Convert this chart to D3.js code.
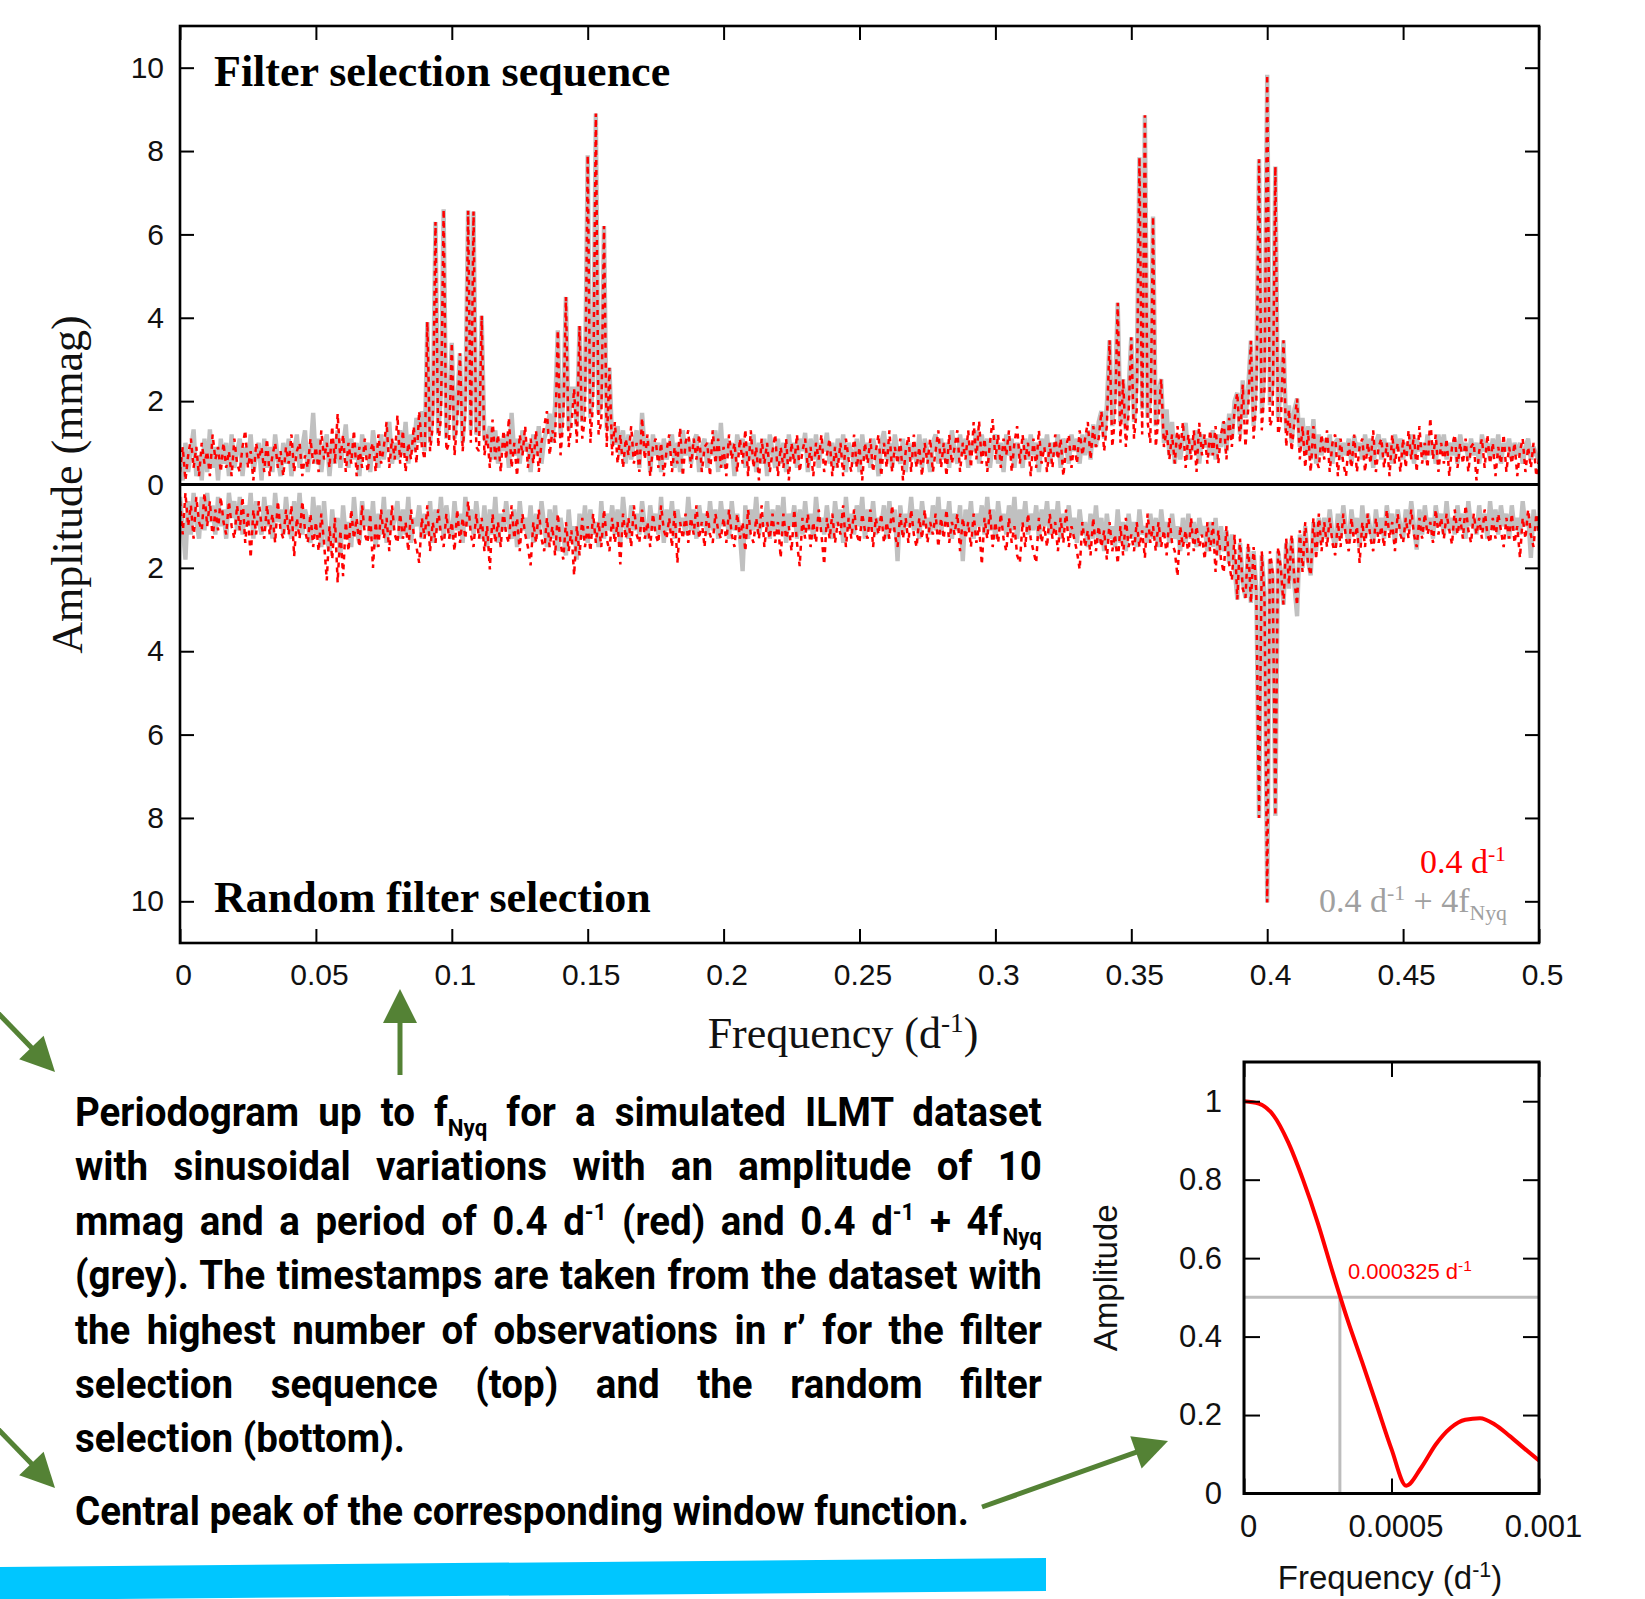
<!DOCTYPE html>
<html>
<head>
<meta charset="utf-8">
<script src="https://cdn.jsdelivr.net/npm/d3@7"></script>
<style>
  html, body { margin: 0; padding: 0; background: #fff; }
  svg { display: block; }
</style>
</head>
<body>
<svg id="fig" width="1645" height="1599"></svg>
<script>
// ---------------------------------------------------------------
// Periodogram amplitudes (mmag), sampled every 0.001 d^-1 from 0 to 0.5
// top = filter selection sequence, bot = random filter selection
// red = 0.4 d^-1 signal, grey = 0.4 d^-1 + 4 fNyq signal
// ---------------------------------------------------------------
const freqStep = 0.001;

const topRed = [
  0.3,0.9,0.1,0.7,1.1,0.4,0.9,0.2,1.0,0.5,
  0.8,0.2,1.2,0.6,0.9,0.3,1.0,0.4,0.8,0.2,
  1.1,0.5,0.3,0.9,1.3,0.4,0.8,0.1,1.0,0.6,
  0.9,0.3,1.1,0.2,0.7,1.0,0.4,0.8,0.2,0.9,
  0.5,1.2,0.3,0.8,1.0,0.2,0.7,0.4,1.1,0.5,
  0.9,0.3,1.3,0.6,1.0,0.4,1.4,0.5,1.7,0.6,
  1.2,0.3,1.0,0.5,1.3,0.2,0.9,0.4,1.1,0.3,
  0.8,1.0,0.3,1.2,0.5,0.9,1.5,0.4,1.1,0.6,
  1.66,0.5,1.3,0.3,1.0,0.6,1.4,0.5,1.76,0.9,
  0.6,3.9,0.8,1.4,6.3,0.9,1.6,6.6,0.8,1.0,
  3.4,0.7,1.5,3.15,0.8,1.7,6.57,1.0,6.55,0.9,
  0.8,4.05,0.7,1.2,0.4,1.56,0.6,1.2,0.3,1.3,
  0.6,1.6,0.4,1.0,0.2,1.2,0.7,1.4,0.4,1.1,
  0.5,1.3,0.3,1.0,1.4,1.76,0.7,1.3,1.0,3.7,
  0.7,1.5,4.5,0.9,1.4,2.3,1.0,3.8,1.1,1.6,
  7.9,1.0,2.0,8.9,1.2,1.5,6.2,0.9,2.8,0.7,
  1.5,0.5,1.2,0.4,1.1,0.7,1.4,0.5,1.0,0.3,
  1.6,0.6,1.2,0.2,0.9,1.1,0.4,1.0,0.2,0.8,
  1.2,0.3,0.9,0.5,1.36,0.2,1.0,1.3,0.4,1.1,
  0.6,1.2,0.3,0.9,1.0,0.2,1.3,0.5,1.1,0.4,
  0.9,0.2,1.2,0.6,1.0,0.3,1.1,0.5,1.32,0.2,
  1.3,0.4,0.9,0.1,1.1,0.5,1.0,0.3,0.8,1.2,
  0.2,0.9,0.4,1.1,0.1,1.0,0.5,1.2,0.3,0.8,
  1.1,0.4,0.9,0.2,1.0,0.6,1.2,0.3,0.7,1.1,
  0.2,0.9,0.4,1.0,0.2,1.1,0.6,0.3,1.2,0.4,
  0.9,0.1,1.0,0.5,1.1,0.3,0.8,1.2,0.2,1.0,
  0.4,1.3,0.3,0.9,0.5,1.1,0.1,0.8,1.16,0.3,
  1.2,0.4,0.9,0.2,1.0,0.5,1.1,0.3,0.8,1.3,
  0.4,1.0,0.2,1.2,0.5,0.9,1.3,0.3,1.0,0.6,
  1.3,0.4,1.5,0.6,1.52,0.5,1.1,0.3,1.0,1.57,
  0.6,1.2,0.4,1.1,0.7,1.3,0.3,1.0,1.4,0.5,
  1.2,0.6,1.0,0.2,1.1,0.4,1.3,0.5,0.9,0.3,
  1.0,0.4,1.2,0.6,1.1,0.2,0.9,1.2,0.4,1.0,
  0.5,1.3,0.7,1.1,1.5,0.6,1.4,0.9,1.1,1.76,
  0.8,1.4,3.46,0.9,1.6,4.36,1.0,2.53,0.9,1.7,
  3.53,1.1,1.8,7.85,1.2,8.86,1.5,1.0,6.43,0.9,
  1.6,2.53,0.9,1.3,0.6,1.2,0.5,1.4,0.8,1.5,
  0.4,1.2,0.6,1.3,0.3,1.48,0.7,1.2,0.5,1.3,
  0.7,1.4,0.5,1.2,1.52,0.6,1.6,0.9,1.8,2.2,
  1.0,2.4,0.9,1.8,3.45,1.1,2.0,7.8,1.3,2.3,
  9.83,1.4,1.6,7.63,1.2,1.5,3.46,0.9,1.8,0.8,
  1.5,2.06,0.6,1.4,0.4,1.3,0.3,1.4,0.6,0.4,
  1.2,0.6,1.3,0.3,1.0,1.2,0.2,1.1,0.5,0.2,
  1.0,0.4,1.2,0.3,0.9,1.1,0.3,1.0,0.5,1.3,
  0.3,0.9,1.1,0.4,1.0,0.2,1.2,0.5,1.0,0.3,
  1.1,0.4,1.3,0.6,1.2,0.3,1.4,0.5,1.0,0.4,
  1.6,0.6,1.2,0.3,1.0,0.5,1.1,0.2,0.9,1.2,
  0.4,1.0,0.5,1.1,0.3,0.9,1.0,0.1,0.8,1.1,
  0.4,1.2,0.5,1.0,0.2,0.9,0.5,1.2,0.3,0.9,
  0.5,1.0,0.2,0.8,1.1,0.3,0.9,0.4,1.0,0.2,
  0.6
];

const topGrey = [
  0.5,0.1,1.0,0.3,0.8,1.32,0.2,0.7,0.1,1.1,
  0.3,1.32,0.4,0.9,0.1,1.1,0.5,1.0,0.2,1.2,
  0.4,0.8,1.1,0.2,0.9,0.5,1.2,0.3,0.7,1.0,
  0.1,1.1,0.4,0.9,0.3,1.2,0.6,0.2,1.0,0.5,
  1.1,0.2,0.8,1.2,0.4,0.9,1.3,0.3,0.8,1.72,
  0.5,1.1,0.3,0.9,1.2,0.2,1.0,0.5,1.3,0.4,
  0.9,1.44,0.4,1.1,0.6,1.0,0.2,1.2,0.7,1.0,
  0.3,1.3,0.8,0.4,1.2,0.6,1.1,1.5,0.5,1.0,
  0.6,1.3,0.7,1.5,0.5,1.2,0.8,1.6,1.0,1.76,
  0.8,3.9,1.0,1.8,6.3,1.2,2.2,6.6,1.1,1.9,
  3.4,1.1,2.0,3.15,1.0,2.1,6.57,1.3,6.55,1.2,
  1.3,4.05,1.1,1.0,1.4,0.6,1.3,0.5,1.1,0.8,
  1.2,0.4,1.72,0.7,1.1,0.5,1.3,0.8,1.0,0.3,
  1.2,0.7,1.4,0.5,1.1,1.3,1.7,1.0,1.9,3.7,
  1.2,2.0,4.5,1.3,2.3,2.3,1.4,3.8,1.5,2.4,
  7.9,1.6,2.5,8.9,1.7,2.0,6.2,1.3,2.8,1.0,
  1.0,1.4,0.7,1.3,0.5,1.2,0.6,1.0,1.3,0.4,
  1.72,0.8,1.1,0.3,1.2,0.7,1.0,0.3,1.1,0.6,
  0.9,1.2,0.4,1.0,0.3,1.3,0.7,1.1,0.5,1.0,
  1.2,0.3,0.9,1.1,0.4,1.0,0.7,1.3,0.3,1.48,
  0.4,1.1,0.7,1.0,0.2,1.2,0.8,1.1,0.4,1.0,
  0.6,1.2,0.3,1.0,0.5,1.1,0.2,1.2,0.8,0.4,
  1.1,0.5,1.0,0.3,1.2,0.6,1.0,0.4,1.1,0.8,
  1.24,0.3,1.1,0.6,1.2,0.4,1.0,0.8,1.24,0.5,
  1.0,0.4,1.1,0.6,1.2,0.3,1.0,0.8,0.5,1.1,
  0.3,1.2,0.6,1.0,0.4,1.1,0.8,0.2,1.0,1.28,
  0.6,1.0,0.4,1.2,0.8,0.5,1.1,0.3,1.0,0.6,
  1.0,0.5,1.2,0.4,1.1,0.8,0.3,1.0,1.2,0.5,
  1.1,0.6,1.0,0.4,1.3,0.8,0.5,1.2,0.7,1.1,
  0.4,1.0,0.8,1.3,0.5,1.2,0.7,1.1,0.4,1.0,
  1.2,0.5,1.0,0.3,1.2,0.7,1.1,0.4,1.0,0.8,
  0.4,1.1,0.6,1.2,0.7,1.0,0.3,1.1,0.8,1.2,
  0.5,1.0,0.7,1.2,0.4,1.1,0.9,0.5,1.2,0.8,
  1.1,0.5,1.2,0.7,1.3,0.6,1.44,0.9,1.5,1.76,
  1.1,1.9,3.46,1.4,2.2,4.36,1.5,2.53,1.3,2.3,
  3.53,1.5,2.5,7.85,1.8,8.86,1.6,2.1,6.43,1.4,
  2.2,2.53,1.0,1.8,0.7,1.5,0.5,1.2,0.6,1.1,
  1.48,0.6,1.1,0.8,1.3,0.5,1.2,0.9,1.1,0.7,
  1.3,0.6,1.2,0.9,1.5,0.8,1.7,1.1,2.0,2.2,
  1.2,2.5,1.6,2.3,3.45,1.4,2.7,7.8,1.7,2.8,
  9.83,1.9,2.4,7.63,1.6,2.3,3.46,1.3,1.9,1.0,
  1.8,2.06,0.9,1.6,0.7,1.4,0.6,1.57,0.5,1.2,
  0.7,1.1,0.8,1.2,0.5,1.0,1.1,0.6,1.0,0.7,
  1.1,0.5,1.16,0.8,1.0,0.6,1.2,0.7,1.1,0.4,
  1.0,1.2,0.6,1.1,0.7,1.0,0.5,1.2,0.8,1.1,
  0.6,1.0,0.7,1.2,0.5,1.1,0.8,1.0,0.6,1.2,
  0.7,1.0,0.5,1.2,0.8,1.2,0.6,1.0,0.7,1.1,
  0.5,1.2,0.8,1.0,0.6,1.1,0.7,1.0,0.5,1.2,
  0.8,1.0,0.6,1.1,0.7,1.2,0.5,1.0,0.8,1.1,
  0.6,1.0,0.7,1.0,0.5,0.9,1.1,0.6,0.9,0.7,
  0.6
];

const botRed = [
  0.4,1.2,0.2,1.0,0.5,1.3,0.3,0.9,1.1,0.2,
  1.0,0.4,1.3,0.6,1.1,0.3,0.9,1.2,0.4,1.0,
  1.3,0.5,1.1,0.3,1.4,0.7,1.76,0.6,1.2,0.4,
  1.0,1.3,0.5,1.2,0.7,1.4,0.4,1.1,1.3,0.6,
  1.2,0.5,1.72,0.8,1.3,0.4,1.1,1.4,0.7,1.5,
  0.9,1.6,0.7,1.4,2.3,1.0,1.8,0.8,2.35,1.1,
  2.2,0.9,1.6,0.6,1.3,0.8,1.5,0.5,1.2,1.4,
  0.7,2.0,0.9,1.5,0.6,1.3,0.8,1.6,0.5,1.2,
  1.4,0.7,1.3,0.9,1.6,0.6,1.2,1.5,1.88,0.8,
  1.3,0.5,1.6,0.9,1.4,0.6,1.2,1.5,0.7,1.3,
  0.9,1.6,0.6,1.4,0.8,1.3,0.4,1.2,1.5,0.7,
  1.3,0.8,1.6,1.0,2.04,0.7,1.4,0.9,1.5,0.6,
  1.2,1.4,0.5,1.3,0.8,1.6,0.7,1.2,1.5,1.94,
  0.9,1.4,0.6,1.3,1.6,0.8,1.5,1.0,1.7,0.7,
  1.4,1.8,0.9,1.6,1.1,2.18,1.0,1.7,0.8,1.5,
  1.0,1.6,0.7,1.4,0.9,1.5,0.6,1.3,1.6,0.8,
  1.4,0.9,1.92,0.7,1.3,0.8,1.5,0.5,1.2,1.4,
  0.6,1.3,0.9,1.5,0.7,1.2,1.4,0.5,1.1,1.3,
  0.8,1.5,0.6,1.88,0.9,1.3,0.7,1.4,0.8,1.2,
  0.5,1.3,0.9,1.5,0.6,1.2,1.4,0.7,1.1,1.3,
  0.8,1.4,0.6,1.2,1.5,0.7,1.3,0.9,1.6,0.6,
  1.2,1.4,0.8,1.3,0.5,1.5,0.9,1.3,0.7,1.4,
  0.9,1.76,0.7,1.3,1.0,1.6,0.6,1.4,1.96,0.8,
  1.3,0.7,1.5,0.9,1.4,0.6,1.2,1.92,0.8,1.3,
  0.7,1.4,0.9,1.2,0.5,1.5,0.8,1.3,0.6,1.2,
  1.4,0.7,1.1,1.3,0.6,1.5,0.8,1.2,0.7,1.4,
  0.9,1.3,0.5,1.2,1.5,0.7,1.3,0.8,1.4,0.6,
  1.2,1.5,0.8,1.3,0.6,1.4,0.9,1.2,0.7,1.5,
  0.8,1.3,0.6,1.4,0.9,1.2,0.7,1.6,0.8,1.3,
  0.9,1.5,0.7,1.4,1.0,1.92,0.8,1.3,0.6,1.5,
  0.9,1.4,0.7,1.3,1.6,0.8,1.4,1.0,1.7,1.88,
  0.9,1.5,0.7,1.3,1.6,1.88,0.8,1.4,1.0,1.5,
  0.7,1.3,0.9,1.6,0.8,1.4,0.6,1.5,1.0,1.3,
  1.6,2.04,0.9,1.5,1.1,1.7,0.8,1.6,1.0,1.5,
  1.1,1.8,0.9,1.6,1.2,1.9,1.0,1.7,0.8,1.5,
  1.2,1.6,0.9,1.5,1.1,1.76,0.7,1.4,1.0,1.6,
  0.9,1.5,1.1,1.7,0.8,1.4,1.6,2.2,1.0,1.5,
  1.1,1.7,0.8,1.6,1.0,1.5,1.2,1.8,0.9,1.6,
  0.9,2.1,1.1,1.8,2.12,1.0,1.9,2.3,1.2,2.76,
  1.3,2.5,2.72,1.4,2.84,1.5,2.6,8.0,1.6,2.7,
  10.03,1.6,2.1,7.95,1.5,2.0,2.88,1.3,2.4,1.2,
  2.3,2.9,1.1,2.1,0.9,1.9,2.18,0.8,1.8,0.7,
  1.6,0.9,1.5,0.8,1.4,1.7,0.9,1.5,0.7,1.3,
  1.6,0.8,1.4,1.0,1.88,0.9,1.5,0.7,1.3,1.6,
  0.8,1.4,1.0,1.5,0.6,1.3,0.9,1.6,0.7,1.2,
  1.4,0.8,1.3,0.6,1.2,1.5,0.8,1.3,0.7,1.2,
  0.9,1.4,0.6,1.2,0.8,1.3,0.7,1.1,1.44,0.6,
  1.2,0.8,1.3,0.5,1.1,1.4,0.7,1.2,0.8,1.3,
  0.6,1.2,1.4,0.8,1.3,0.7,1.1,1.5,0.8,1.3,
  0.7,1.4,1.0,1.76,0.8,1.3,0.6,1.2,1.5,0.7,
  1.2
];

const botGrey = [
  0.3,1.0,1.8,0.4,1.2,0.2,0.9,1.3,0.3,1.1,
  0.2,0.9,0.5,1.2,0.3,1.0,0.6,1.3,0.2,0.8,
  0.4,1.1,0.3,1.2,0.5,1.0,0.2,1.3,0.4,0.9,
  1.2,0.3,1.0,0.5,1.3,0.2,0.9,0.6,1.2,0.3,
  1.0,1.3,0.4,1.1,0.2,1.2,0.6,0.9,1.4,0.3,
  1.2,0.5,1.5,0.4,1.3,1.6,0.6,1.4,0.8,1.7,
  0.5,1.3,0.9,1.5,0.3,1.1,1.4,0.4,1.0,0.6,
  1.3,0.4,1.5,0.7,1.2,0.3,1.4,0.6,1.1,0.8,
  0.4,1.3,0.6,1.2,0.3,1.4,0.8,1.0,0.5,1.3,
  0.7,1.2,0.4,1.4,0.6,1.1,0.3,1.3,0.5,1.0,
  1.3,0.4,1.1,0.7,1.4,0.3,1.0,0.6,1.2,0.4,
  1.0,1.3,0.5,1.5,0.6,1.2,0.3,1.4,0.7,1.1,
  0.4,1.0,1.3,0.6,1.5,0.4,1.1,0.8,1.3,0.5,
  1.4,0.7,1.2,0.4,1.0,1.5,0.6,1.3,0.5,1.6,
  0.8,1.2,1.7,0.6,1.4,1.0,1.8,0.7,1.3,0.5,
  1.4,0.6,1.2,0.9,1.5,0.4,1.3,0.7,1.1,0.5,
  1.2,0.6,1.4,0.3,1.0,1.3,0.5,1.1,0.7,1.2,
  0.4,1.0,1.3,0.5,1.1,0.7,1.2,0.3,1.4,0.6,
  1.1,0.4,1.3,0.6,1.0,0.8,1.2,0.3,1.1,0.6,
  1.3,0.5,1.0,0.7,1.2,0.4,1.1,0.6,1.3,0.4,
  1.0,0.6,1.3,0.4,1.1,0.7,1.2,2.08,0.5,1.3,
  0.6,1.1,0.3,1.2,0.8,1.0,0.4,1.3,0.6,1.1,
  0.5,1.2,0.3,1.4,0.7,1.0,0.5,1.3,0.6,1.2,
  0.4,1.1,0.7,1.3,0.3,1.0,0.8,1.2,0.5,1.1,
  1.3,0.4,1.0,0.6,1.4,0.3,1.1,0.7,1.2,0.5,
  1.0,0.3,1.3,0.6,1.1,0.4,1.2,0.8,1.0,0.5,
  1.3,0.4,1.1,0.6,1.84,0.5,1.2,0.7,1.0,0.3,
  1.1,0.6,1.3,0.4,1.0,0.8,1.2,0.5,1.1,0.3,
  1.2,0.6,1.0,0.4,1.3,0.7,1.1,0.5,1.84,0.6,
  1.1,0.4,1.3,0.7,1.0,0.5,1.2,0.3,1.1,0.6,
  1.3,0.4,1.0,0.7,1.2,0.5,1.1,0.3,1.3,0.6,
  1.0,0.4,1.2,0.7,1.1,0.5,1.3,0.6,1.0,0.4,
  1.2,0.6,1.1,0.4,1.3,0.7,1.0,0.5,1.2,0.8,
  1.4,0.6,1.2,0.9,1.5,0.7,1.3,0.5,1.4,0.8,
  1.6,0.7,1.3,1.0,1.5,0.6,1.4,0.9,1.6,0.7,
  1.3,0.9,1.5,0.6,1.2,1.0,1.4,0.7,1.3,0.8,
  1.5,0.6,1.2,0.9,1.4,0.7,1.3,1.0,1.6,0.8,
  1.4,0.7,1.3,0.9,1.5,0.8,1.2,1.0,1.6,0.9,
  1.5,0.8,1.7,1.0,1.6,1.1,1.9,1.2,2.0,2.76,
  1.4,2.3,2.72,1.5,2.84,1.6,2.5,8.0,1.7,2.6,
  10.03,1.8,2.2,7.95,1.6,2.1,2.88,1.4,2.5,1.3,
  2.4,3.16,1.2,2.0,1.0,1.8,2.18,0.9,1.6,0.8,
  1.4,0.8,1.3,0.6,1.2,1.5,0.7,1.3,0.5,1.1,
  1.4,0.6,1.2,0.8,1.5,0.5,1.3,0.7,1.1,1.4,
  0.6,1.2,0.8,1.3,0.5,1.1,0.7,1.4,0.6,1.0,
  1.3,0.6,1.1,0.4,1.0,1.56,0.6,1.2,0.5,1.1,
  0.8,1.3,0.5,1.0,0.7,1.2,0.4,1.1,0.8,1.2,
  0.5,1.1,0.7,1.3,0.4,1.0,0.8,1.2,0.5,1.1,
  0.7,1.3,0.4,1.1,0.6,1.2,0.5,1.0,0.7,1.3,
  0.5,1.1,0.8,1.2,0.4,1.0,0.7,1.76,0.6,1.1,
  0.8
];

// Axis ticks of the periodogram
const xTicks = [0, 0.05, 0.1, 0.15, 0.2, 0.25, 0.3, 0.35, 0.4, 0.45, 0.5];
const xTickLabels = ["0", "0.05", "0.1", "0.15", "0.2", "0.25", "0.3", "0.35", "0.4", "0.45", "0.5"];
const yTicks = [-10, -8, -6, -4, -2, 0, 2, 4, 6, 8, 10];
const yTickLabels = ["10", "8", "6", "4", "2", "0", "2", "4", "6", "8", "10"];

// Central peak of the spectral window
const windowFreq = [0, 0.00005, 0.0001, 0.00015, 0.0002, 0.00025, 0.0003, 0.00035, 0.0004, 0.00045,
                    0.0005, 0.00055, 0.0006, 0.00065, 0.0007, 0.00075, 0.0008, 0.00085, 0.0009, 0.00095, 0.001];
const windowAmp  = [1.0, 0.994, 0.964, 0.895, 0.80, 0.69, 0.565, 0.445, 0.336, 0.225,
                    0.113, 0.02, 0.065, 0.125, 0.167, 0.188, 0.192, 0.176, 0.147, 0.115, 0.084];
const halfMaxAmp = 0.5;
const halfWidthFreq = 0.000325;
const insetXTicks = [0, 0.0005, 0.001];
const insetXTickLabels = ["0", "0.0005", "0.001"];
const insetYTicks = [0, 0.2, 0.4, 0.6, 0.8, 1];
const insetYTickLabels = ["0", "0.2", "0.4", "0.6", "0.8", "1"];

// ---------------------------------------------------------------
const SANS = "'Liberation Sans', Arial, Helvetica, sans-serif";
const SERIF = "'Liberation Serif', 'Times New Roman', Times, serif";
const RED = "#ff0000";
const GREY = "#c0c0c0";
const GREEN = "#548235";

const svg = d3.select("#fig");
const defs = svg.append("defs");

// text helper: segments [text, kind] with kind "sub" / "sup"
function addSegments(textSel, segs, fs, smallRatio) {
  let shift = 0;
  segs.forEach(([t, kind]) => {
    const target = kind === "sub" ? fs * 0.24 : kind === "sup" ? -fs * 0.36 : 0;
    const ts = textSel.append("tspan").text(t);
    if (target - shift !== 0) ts.attr("dy", target - shift);
    shift = target;
    if (kind) ts.attr("font-size", fs * (smallRatio || 0.6));
  });
  return textSel;
}

// ================= Main periodogram =================
const P = { x0: 180, x1: 1539, y0: 26, y1: 943 };
const x = d3.scaleLinear().domain([0, 0.5]).range([P.x0, P.x1]);
const y = d3.scaleLinear().domain([-11, 11]).range([P.y1, P.y0]);

defs.append("clipPath").attr("id", "clip-main")
  .append("rect").attr("x", P.x0).attr("y", P.y0)
  .attr("width", P.x1 - P.x0).attr("height", P.y1 - P.y0);

const dataG = svg.append("g").attr("clip-path", "url(#clip-main)");
const upper = d3.line().x((d, i) => x(i * freqStep)).y(d => y(d));
const lower = d3.line().x((d, i) => x(i * freqStep)).y(d => y(-d));

[[topGrey, upper], [botGrey, lower]].forEach(([arr, gen]) => {
  dataG.append("path").datum(arr).attr("d", gen)
    .attr("fill", "none").attr("stroke", GREY)
    .attr("stroke-width", 4.4).attr("stroke-linejoin", "miter").attr("stroke-miterlimit", 2);
});
[[topRed, upper], [botRed, lower]].forEach(([arr, gen]) => {
  dataG.append("path").datum(arr).attr("d", gen)
    .attr("fill", "none").attr("stroke", RED)
    .attr("stroke-width", 2.5).attr("stroke-dasharray", "5,5")
    .attr("stroke-linejoin", "miter").attr("stroke-miterlimit", 2);
});

// zero line
svg.append("line")
  .attr("x1", P.x0).attr("x2", P.x1).attr("y1", y(0)).attr("y2", y(0))
  .attr("stroke", "#000").attr("stroke-width", 3);

// axes (ticks pointing inward on all four sides)
function styleAxis(g, fs) {
  g.select(".domain").remove();
  g.selectAll(".tick line").attr("stroke", "#000").attr("stroke-width", 2);
  g.selectAll("text").attr("font-family", SANS).attr("font-size", fs).attr("fill", "#111");
}
const gxB = svg.append("g").attr("transform", `translate(0,${P.y1})`)
  .call(d3.axisBottom(x).tickValues(xTicks).tickSize(-14).tickPadding(21)
    .tickFormat((d, i) => xTickLabels[i]));
styleAxis(gxB, 30);
gxB.selectAll("text").attr("dx", 3);
const gxT = svg.append("g").attr("transform", `translate(0,${P.y0})`)
  .call(d3.axisTop(x).tickValues(xTicks).tickSize(-14).tickFormat(""));
styleAxis(gxT, 30);
const gyL = svg.append("g").attr("transform", `translate(${P.x0},0)`)
  .call(d3.axisLeft(y).tickValues(yTicks).tickSize(-14).tickPadding(16)
    .tickFormat((d, i) => yTickLabels[i]));
styleAxis(gyL, 30);
const gyR = svg.append("g").attr("transform", `translate(${P.x1},0)`)
  .call(d3.axisRight(y).tickValues(yTicks).tickSize(-14).tickFormat(""));
styleAxis(gyR, 30);

// frame
svg.append("rect").attr("x", P.x0).attr("y", P.y0)
  .attr("width", P.x1 - P.x0).attr("height", P.y1 - P.y0)
  .attr("fill", "none").attr("stroke", "#000").attr("stroke-width", 2.6);

// axis titles
svg.append("text")
  .attr("transform", `translate(82,${(P.y0 + P.y1) / 2}) rotate(-90)`)
  .attr("text-anchor", "middle").attr("font-family", SERIF).attr("font-size", 44).attr("fill", "#111")
  .text("Amplitude (mmag)");
addSegments(svg.append("text")
  .attr("x", 843).attr("y", 1048).attr("text-anchor", "middle")
  .attr("font-family", SERIF).attr("font-size", 44).attr("fill", "#111"),
  [["Frequency (d"], ["-1", "sup"], [")"]], 44, 0.62);

// panel labels
svg.append("text").attr("x", 214).attr("y", 86)
  .attr("font-family", SERIF).attr("font-weight", "bold").attr("font-size", 44).attr("fill", "#000")
  .text("Filter selection sequence");
svg.append("text").attr("x", 214).attr("y", 912)
  .attr("font-family", SERIF).attr("font-weight", "bold").attr("font-size", 44).attr("fill", "#000")
  .text("Random filter selection");

// legend
addSegments(svg.append("text").attr("x", 1506).attr("y", 873).attr("text-anchor", "end")
  .attr("font-family", SERIF).attr("font-size", 34).attr("fill", RED),
  [["0.4 d"], ["-1", "sup"]], 34, 0.64);
addSegments(svg.append("text").attr("x", 1507).attr("y", 912).attr("text-anchor", "end")
  .attr("font-family", SERIF).attr("font-size", 34).attr("fill", "#a0a0a0"),
  [["0.4 d"], ["-1", "sup"], [" + 4f"], ["Nyq", "sub"]], 34, 0.64);

// ================= Window function inset =================
const W = { x0: 1244, x1: 1539, y0: 1062, y1: 1493.5 };
const wx = d3.scaleLinear().domain([0, 0.001]).range([W.x0, W.x1]);
const wy = d3.scaleLinear().domain([0, 1.1]).range([W.y1, W.y0]);

const insetG = svg.append("g");
insetG.append("line")
  .attr("x1", wx(0)).attr("x2", wx(0.001)).attr("y1", wy(halfMaxAmp)).attr("y2", wy(halfMaxAmp))
  .attr("stroke", "#bdbdbd").attr("stroke-width", 3);
insetG.append("line")
  .attr("x1", wx(halfWidthFreq)).attr("x2", wx(halfWidthFreq)).attr("y1", wy(0)).attr("y2", wy(halfMaxAmp))
  .attr("stroke", "#bdbdbd").attr("stroke-width", 3);
insetG.append("path")
  .datum(windowFreq.map((f, i) => [f, windowAmp[i]]))
  .attr("d", d3.line().x(d => wx(d[0])).y(d => wy(d[1])).curve(d3.curveMonotoneX))
  .attr("fill", "none").attr("stroke", RED).attr("stroke-width", 4);

addSegments(insetG.append("text").attr("x", 1348).attr("y", 1279)
  .attr("font-family", SANS).attr("font-size", 22).attr("fill", RED),
  [["0.000325 d"], ["-1", "sup"]], 22, 0.7);

const wxB = svg.append("g").attr("transform", `translate(0,${W.y1})`)
  .call(d3.axisBottom(wx).tickValues(insetXTicks).tickSize(-15).tickPadding(21)
    .tickFormat((d, i) => insetXTickLabels[i]));
styleAxis(wxB, 31);
wxB.selectAll("text").attr("dx", 4);
const wxT = svg.append("g").attr("transform", `translate(0,${W.y0})`)
  .call(d3.axisTop(wx).tickValues(insetXTicks).tickSize(-15).tickFormat(""));
styleAxis(wxT, 31);
const wyL = svg.append("g").attr("transform", `translate(${W.x0},0)`)
  .call(d3.axisLeft(wy).tickValues(insetYTicks).tickSize(-16).tickPadding(22)
    .tickFormat((d, i) => insetYTickLabels[i]));
styleAxis(wyL, 31);
const wyR = svg.append("g").attr("transform", `translate(${W.x1},0)`)
  .call(d3.axisRight(wy).tickValues(insetYTicks).tickSize(-16).tickFormat(""));
styleAxis(wyR, 31);

svg.append("rect").attr("x", W.x0).attr("y", W.y0)
  .attr("width", W.x1 - W.x0).attr("height", W.y1 - W.y0)
  .attr("fill", "none").attr("stroke", "#000").attr("stroke-width", 3);

svg.append("text")
  .attr("transform", `translate(1117,${(W.y0 + W.y1) / 2}) rotate(-90)`)
  .attr("text-anchor", "middle").attr("font-family", SANS).attr("font-size", 33).attr("fill", "#111")
  .text("Amplitude");
addSegments(svg.append("text").attr("x", 1390).attr("y", 1589).attr("text-anchor", "middle")
  .attr("font-family", SANS).attr("font-size", 33).attr("fill", "#111"),
  [["Frequency (d"], ["-1", "sup"], [")"]], 33, 0.65);

// ================= Caption =================
const CAP = { x: 75, width: 967, lastWidth: 894, fs: 41 };
const captionLines = [
  { y: 1126,   justify: true,  segs: [["Periodogram up to f"], ["Nyq", "sub"], [" for a simulated ILMT dataset"]] },
  { y: 1180.4, justify: true,  segs: [["with sinusoidal variations with an amplitude of 10"]] },
  { y: 1234.8, justify: true,  segs: [["mmag and a period of 0.4 d"], ["-1", "sup"], [" (red) and 0.4 d"], ["-1", "sup"], [" + 4f"], ["Nyq", "sub"]] },
  { y: 1289.2, justify: true,  segs: [["(grey). The timestamps are taken from the dataset with"]] },
  { y: 1343.6, justify: true,  segs: [["the highest number of observations in r\u2019 for the filter"]] },
  { y: 1398,   justify: true,  segs: [["selection sequence (top) and the random filter"]] },
  { y: 1452.4, justify: false, segs: [["selection (bottom)."]] },
  { y: 1525,   justify: false, segs: [["Central peak of the corresponding window function."]] }
];
const capG = svg.append("g");
const capTexts = captionLines.map(line =>
  addSegments(capG.append("text").attr("x", 0).attr("y", line.y)
    .attr("font-family", "Roboto, 'Open Sans', sans-serif").attr("font-weight", 700)
    .attr("font-size", CAP.fs).attr("fill", "#000"), line.segs, CAP.fs, 0.58));
const lastW = capTexts[capTexts.length - 1].node().getComputedTextLength();
const sx = CAP.lastWidth / lastW;
captionLines.forEach((line, i) => {
  if (!line.justify) return;
  const node = capTexts[i].node();
  const w = node.getComputedTextLength();
  const spaces = line.segs.reduce((n, s) => n + (s[0].match(/ /g) || []).length, 0);
  capTexts[i].style("word-spacing", ((CAP.width / sx - w) / spaces) + "px");
});
capG.attr("transform", `translate(${CAP.x},0) scale(${sx},1)`);

// ================= Pointer arrows =================
function arrow(x1, y1, x2, y2) {
  const L = Math.hypot(x2 - x1, y2 - y1), ux = (x2 - x1) / L, uy = (y2 - y1) / L;
  const hl = 34, hw = 17;
  const bx = x2 - ux * hl, by = y2 - uy * hl;
  svg.append("line").attr("x1", x1).attr("y1", y1).attr("x2", bx + ux * 2).attr("y2", by + uy * 2)
    .attr("stroke", GREEN).attr("stroke-width", 5);
  svg.append("path")
    .attr("d", `M${x2},${y2}L${bx - uy * hw},${by + ux * hw}L${bx + uy * hw},${by - ux * hw}Z`)
    .attr("fill", GREEN);
}
arrow(-2, 1013, 55, 1072);
arrow(400, 1075, 400, 989);
arrow(-2, 1429, 55, 1488);
arrow(982, 1507, 1168, 1441);

// ================= Highlight bar =================
svg.append("path").attr("d", "M0,1567L1046,1558L1046,1591L0,1600Z").attr("fill", "#00c6ff");
</script>
</body>
</html>
